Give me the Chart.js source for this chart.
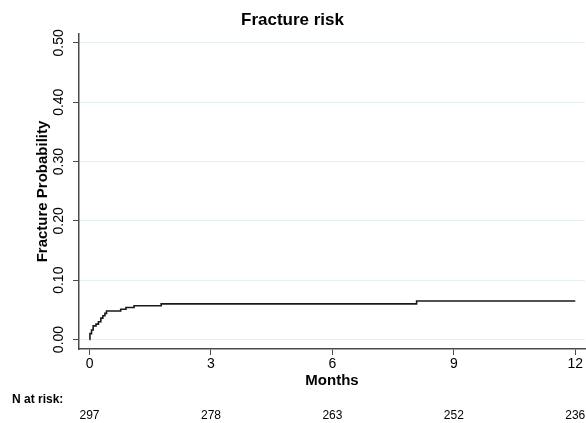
<!DOCTYPE html>
<html>
<head>
<meta charset="utf-8">
<title>Fracture risk</title>
<script src="https://cdn.jsdelivr.net/npm/chart.js@4"></script>
<style>
  body { margin: 0; background: #fff; }
  #wrap { width: 586px; height: 423px; }
</style>
</head>
<body>
<div id="wrap"><canvas id="riskChart" width="586" height="423"></canvas></div>
<script>
// Kaplan-Meier style cumulative fracture probability
const months = [0, 0.01, 0.05, 0.09, 0.16, 0.22, 0.28, 0.33, 0.38, 0.42, 0.77, 0.90, 1.10, 1.77, 8.08, 12];
const probability = [0, 0.010, 0.016, 0.023, 0.026, 0.030, 0.036, 0.040, 0.044, 0.048, 0.051, 0.054, 0.057, 0.060, 0.065, 0.065];

const xTicks = [0, 3, 6, 9, 12];
const yTicks = [0, 0.1, 0.2, 0.3, 0.4, 0.5];
const nAtRisk = [297, 278, 263, 252, 236];

const FONT = '"Liberation Sans", Arial, Helvetica, sans-serif';
const AXIS_COLOR = '#4a4a4a';

// Draw the "N at risk" table under the x axis
const riskTablePlugin = {
    id: 'riskTable',
    afterDraw(chart) {
        const ctx = chart.ctx;
        const xScale = chart.scales.x;
        ctx.save();
        ctx.fillStyle = '#000';
        ctx.textBaseline = 'middle';
        ctx.font = 'bold 12px ' + FONT;
        ctx.textAlign = 'left';
        ctx.fillText('N at risk:', 12, 400);
        ctx.font = '12px ' + FONT;
        ctx.textAlign = 'center';
        xTicks.forEach((t, i) => {
            ctx.fillText(String(nAtRisk[i]), xScale.getPixelForValue(t), 416);
        });
        ctx.restore();
    }
};

const ctx = document.getElementById('riskChart').getContext('2d');
const riskChart = new Chart(ctx, {
    type: 'line',
    data: {
        datasets: [{
            data: months.map((m, i) => ({ x: m, y: probability[i] })),
            borderColor: '#1a1a1a',
            borderWidth: 1.6,
            pointRadius: 0,
            stepped: 'before',
            fill: false
        }]
    },
    options: {
        responsive: false,
        animation: false,
        layout: { padding: { left: 0, right: 1, top: 0, bottom: 0 } },
        plugins: {
            legend: { display: false },
            tooltip: { enabled: false },
            title: {
                display: true,
                text: 'Fracture risk',
                color: '#000',
                font: { family: FONT, size: 17, weight: 'bold' },
                padding: { top: 10, bottom: 3.6 }
            }
        },
        scales: {
            x: {
                type: 'linear',
                min: -0.26,
                max: 12.24,
                afterBuildTicks: scale => { scale.ticks = xTicks.map(v => ({ value: v })); },
                afterFit: scale => { scale.height = 74; },
                grid: {
                    drawOnChartArea: false,
                    tickLength: 6,
                    tickColor: AXIS_COLOR,
                    lineWidth: 1
                },
                border: { color: AXIS_COLOR, width: 1.5 },
                ticks: {
                    color: '#000',
                    padding: 1,
                    maxRotation: 0,
                    font: { family: FONT, size: 14 }
                },
                title: {
                    display: true,
                    text: 'Months',
                    color: '#000',
                    font: { family: FONT, size: 15, weight: 'bold' },
                    padding: { top: 0, bottom: 33 }
                }
            },
            y: {
                type: 'linear',
                min: -0.016,
                max: 0.515,
                afterBuildTicks: scale => { scale.ticks = yTicks.map(v => ({ value: v })); },
                afterFit: scale => { scale.width = 79; },
                grid: {
                    color: '#e6eff0',
                    lineWidth: 1,
                    tickLength: 6,
                    tickColor: AXIS_COLOR
                },
                border: { color: AXIS_COLOR, width: 1.5 },
                ticks: {
                    color: '#000',
                    padding: 0,
                    minRotation: 90,
                    maxRotation: 90,
                    crossAlign: 'center',
                    font: { family: FONT, size: 14 },
                    callback: v => Number(v).toFixed(2)
                },
                title: {
                    display: true,
                    text: 'Fracture Probability',
                    color: '#000',
                    font: { family: FONT, size: 15, weight: 'bold' },
                    padding: { top: 33.5, bottom: 0 }
                }
            }
        }
    },
    plugins: [riskTablePlugin]
});
</script>
</body>
</html>
